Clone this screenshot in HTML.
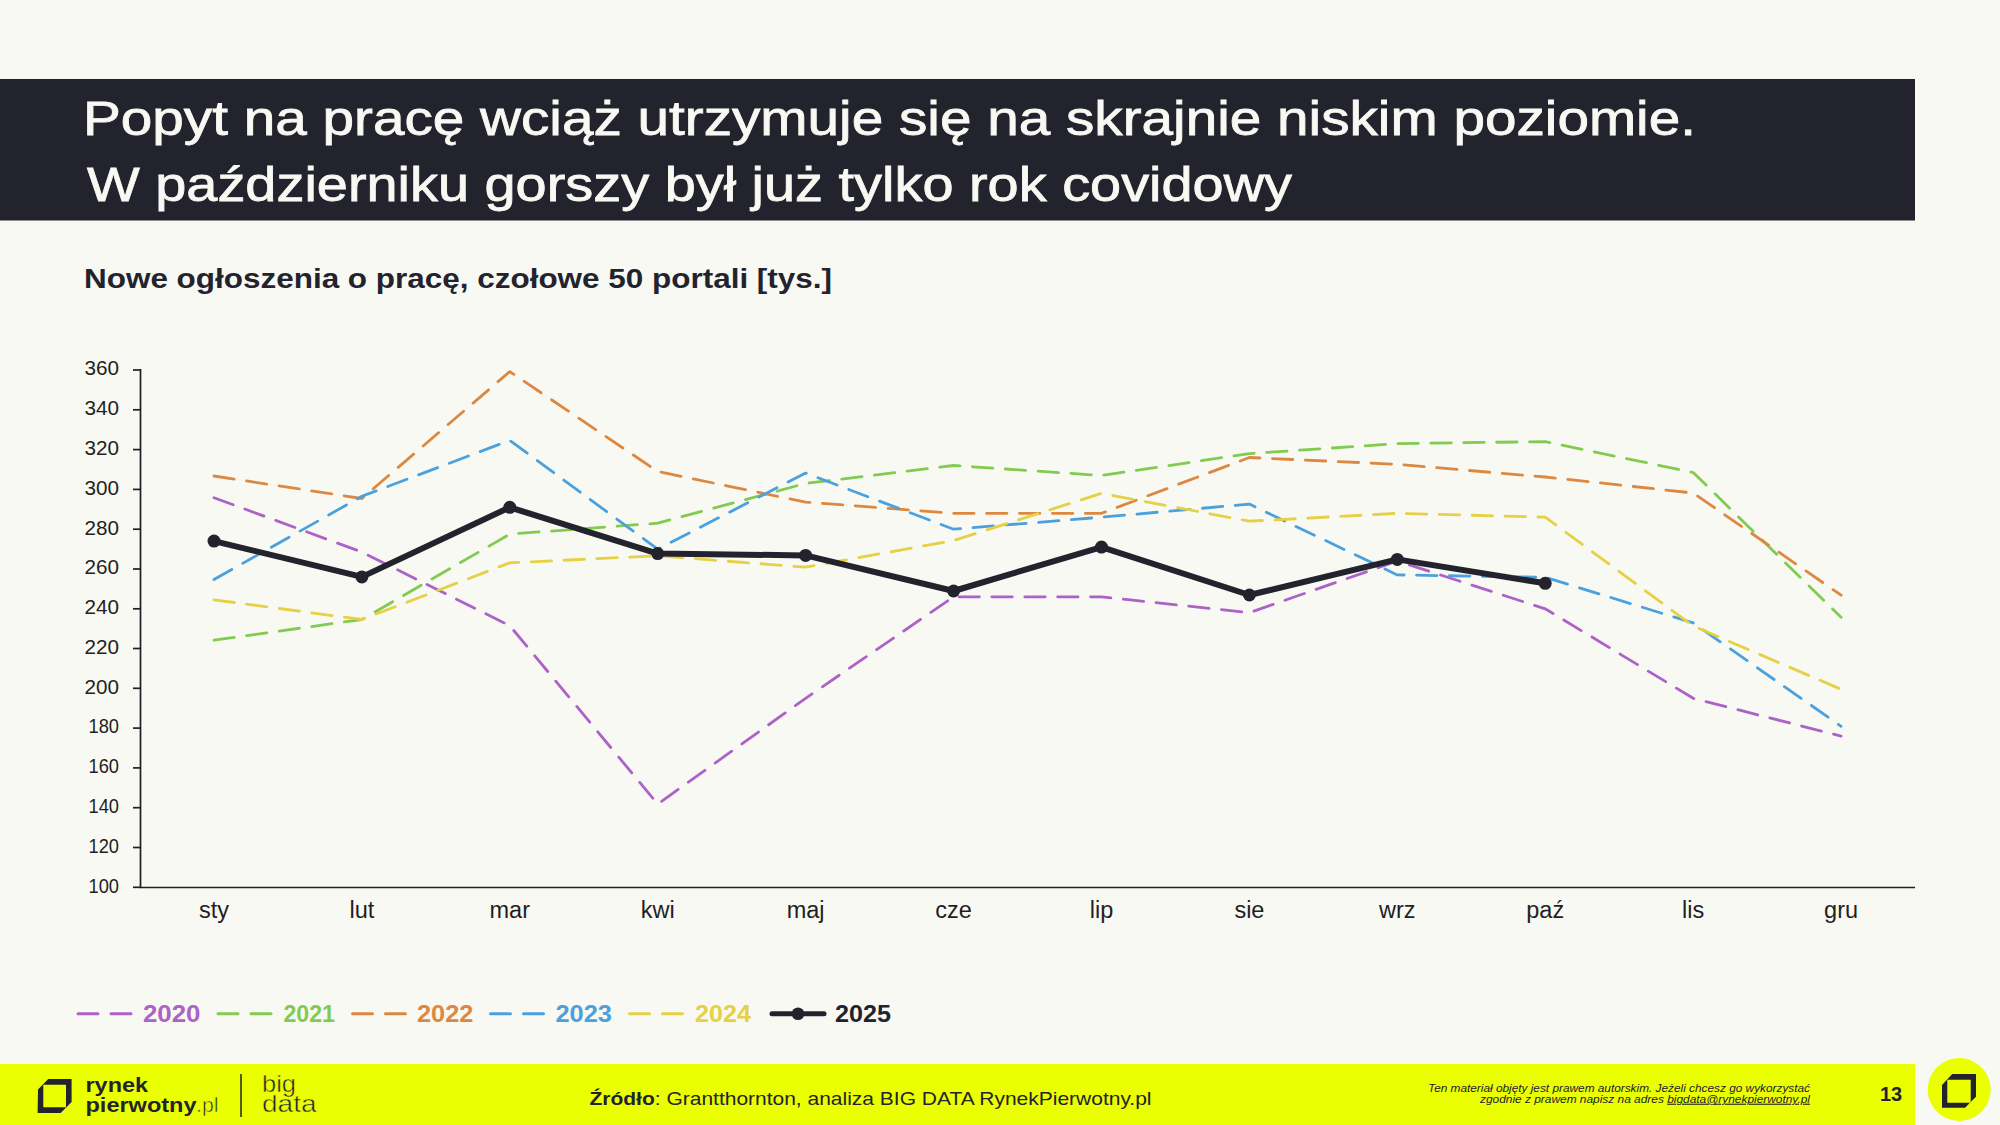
<!DOCTYPE html>
<html><head><meta charset="utf-8"><title>Popyt na pracę</title>
<style>
html,body{margin:0;padding:0;background:#F8F9F3;}
body{width:2000px;height:1125px;overflow:hidden;position:relative;font-family:"Liberation Sans",sans-serif;}
svg{position:absolute;left:0;top:0;}
</style></head><body>
<svg width="2000" height="1125" viewBox="0 0 2000 1125" font-family="Liberation Sans, sans-serif">
<rect x="0" y="0" width="2000" height="1125" fill="#F8F9F3"/>
<rect x="0" y="79" width="1915" height="141.5" fill="#23232D"/>
<text x="83" y="135" font-size="49" fill="#F8F9F3" stroke="#F8F9F3" stroke-width="0.8" textLength="1613" lengthAdjust="spacingAndGlyphs">Popyt na pracę wciąż utrzymuje się na skrajnie niskim poziomie.</text>
<text x="87" y="201" font-size="49" fill="#F8F9F3" stroke="#F8F9F3" stroke-width="0.8" textLength="1205" lengthAdjust="spacingAndGlyphs">W październiku gorszy był już tylko rok covidowy</text>
<text x="84" y="288" font-size="28" font-weight="bold" fill="#23232D" textLength="748" lengthAdjust="spacingAndGlyphs">Nowe ogłoszenia o pracę, czołowe 50 portali [tys.]</text>

<g stroke="#1F1F24" stroke-width="1.7" fill="none">
<path d="M140.5 369 V887.5 H1915"/>
<path d="M133 887.3 H140.5"/>
<path d="M133 847.5 H140.5"/>
<path d="M133 807.7 H140.5"/>
<path d="M133 767.9 H140.5"/>
<path d="M133 728.1 H140.5"/>
<path d="M133 688.3 H140.5"/>
<path d="M133 648.5 H140.5"/>
<path d="M133 608.8 H140.5"/>
<path d="M133 569.0 H140.5"/>
<path d="M133 529.2 H140.5"/>
<path d="M133 489.4 H140.5"/>
<path d="M133 449.6 H140.5"/>
<path d="M133 409.8 H140.5"/>
<path d="M133 370.0 H140.5"/>
</g>
<g font-size="19.5" fill="#1F1F24" text-anchor="end">
<text x="88.5" y="892.6" text-anchor="start" textLength="30.5" lengthAdjust="spacingAndGlyphs">100</text>
<text x="88.5" y="852.8" text-anchor="start" textLength="30.5" lengthAdjust="spacingAndGlyphs">120</text>
<text x="88.5" y="813.0" text-anchor="start" textLength="30.5" lengthAdjust="spacingAndGlyphs">140</text>
<text x="88.5" y="773.2" text-anchor="start" textLength="30.5" lengthAdjust="spacingAndGlyphs">160</text>
<text x="88.5" y="733.4" text-anchor="start" textLength="30.5" lengthAdjust="spacingAndGlyphs">180</text>
<text x="84.5" y="693.6" text-anchor="start" textLength="34.5" lengthAdjust="spacingAndGlyphs">200</text>
<text x="84.5" y="653.8" text-anchor="start" textLength="34.5" lengthAdjust="spacingAndGlyphs">220</text>
<text x="84.5" y="614.1" text-anchor="start" textLength="34.5" lengthAdjust="spacingAndGlyphs">240</text>
<text x="84.5" y="574.3" text-anchor="start" textLength="34.5" lengthAdjust="spacingAndGlyphs">260</text>
<text x="84.5" y="534.5" text-anchor="start" textLength="34.5" lengthAdjust="spacingAndGlyphs">280</text>
<text x="84.5" y="494.7" text-anchor="start" textLength="34.5" lengthAdjust="spacingAndGlyphs">300</text>
<text x="84.5" y="454.9" text-anchor="start" textLength="34.5" lengthAdjust="spacingAndGlyphs">320</text>
<text x="84.5" y="415.1" text-anchor="start" textLength="34.5" lengthAdjust="spacingAndGlyphs">340</text>
<text x="84.5" y="375.3" text-anchor="start" textLength="34.5" lengthAdjust="spacingAndGlyphs">360</text>
</g>
<g font-size="23.5" fill="#1F1F24" text-anchor="middle">
<text x="214.0" y="917.5">sty</text>
<text x="361.9" y="917.5">lut</text>
<text x="509.8" y="917.5">mar</text>
<text x="657.7" y="917.5">kwi</text>
<text x="805.6" y="917.5">maj</text>
<text x="953.6" y="917.5">cze</text>
<text x="1101.5" y="917.5">lip</text>
<text x="1249.4" y="917.5">sie</text>
<text x="1397.3" y="917.5">wrz</text>
<text x="1545.2" y="917.5">paź</text>
<text x="1693.2" y="917.5">lis</text>
<text x="1841.1" y="917.5">gru</text>
</g>
<polyline points="214.0,497.7 361.9,552.1 509.8,625.7 657.7,804.1 805.6,698.3 953.6,596.8 1101.5,596.8 1249.4,612.7 1397.3,561.0 1545.2,608.8 1693.2,698.3 1841.1,736.1" fill="none" stroke="#AD62C7" stroke-width="2.8" stroke-dasharray="20.4 12.5" stroke-linecap="round" stroke-linejoin="round"/>
<polyline points="214.0,640.2 361.9,619.5 509.8,534.1 657.7,523.2 805.6,483.4 953.6,465.5 1101.5,475.5 1249.4,453.6 1397.3,443.6 1545.2,441.6 1693.2,472.5 1841.1,617.3" fill="none" stroke="#82CB50" stroke-width="2.8" stroke-dasharray="20.4 12.5" stroke-linecap="round" stroke-linejoin="round"/>
<polyline points="214.0,476.0 361.9,498.5 509.8,371.6 657.7,471.5 805.6,502.1 953.6,513.3 1101.5,513.3 1249.4,457.5 1397.3,464.3 1545.2,477.0 1693.2,493.0 1841.1,595.2" fill="none" stroke="#DD8840" stroke-width="2.8" stroke-dasharray="20.4 12.5" stroke-linecap="round" stroke-linejoin="round"/>
<polyline points="214.0,579.5 361.9,496.3 509.8,440.4 657.7,549.1 805.6,473.1 953.6,529.2 1101.5,517.2 1249.4,504.1 1397.3,574.9 1545.2,577.3 1693.2,622.9 1841.1,726.3" fill="none" stroke="#4AA1DD" stroke-width="2.8" stroke-dasharray="20.4 12.5" stroke-linecap="round" stroke-linejoin="round"/>
<polyline points="214.0,599.8 361.9,619.5 509.8,562.8 657.7,555.8 805.6,567.2 953.6,540.5 1101.5,493.4 1249.4,521.2 1397.3,513.3 1545.2,517.2 1693.2,625.9 1841.1,689.3" fill="none" stroke="#E6D045" stroke-width="2.8" stroke-dasharray="20.4 12.5" stroke-linecap="round" stroke-linejoin="round"/>
<polyline points="214.0,541.1 361.9,576.9 509.8,507.3 657.7,553.6 805.6,555.4 953.6,591.0 1101.5,547.1 1249.4,595.0 1397.3,559.4 1545.2,583.3" fill="none" stroke="#23232D" stroke-width="6" stroke-linejoin="round"/>
<circle cx="214.0" cy="541.1" r="6.5" fill="#23232D"/>
<circle cx="361.9" cy="576.9" r="6.5" fill="#23232D"/>
<circle cx="509.8" cy="507.3" r="6.5" fill="#23232D"/>
<circle cx="657.7" cy="553.6" r="6.5" fill="#23232D"/>
<circle cx="805.6" cy="555.4" r="6.5" fill="#23232D"/>
<circle cx="953.6" cy="591.0" r="6.5" fill="#23232D"/>
<circle cx="1101.5" cy="547.1" r="6.5" fill="#23232D"/>
<circle cx="1249.4" cy="595.0" r="6.5" fill="#23232D"/>
<circle cx="1397.3" cy="559.4" r="6.5" fill="#23232D"/>
<circle cx="1545.2" cy="583.3" r="6.5" fill="#23232D"/>
<path d="M78.0 1013.7 h20 M111.0 1013.7 h20" stroke="#AD62C7" stroke-width="3" stroke-linecap="round"/>
<text x="143" y="1021.5" font-size="23" font-weight="bold" fill="#AD62C7" textLength="57.5" lengthAdjust="spacingAndGlyphs">2020</text>
<path d="M218.0 1013.7 h20 M251.0 1013.7 h20" stroke="#82CB50" stroke-width="3" stroke-linecap="round"/>
<text x="283.5" y="1021.5" font-size="23" font-weight="bold" fill="#82CB50" textLength="51.5" lengthAdjust="spacingAndGlyphs">2021</text>
<path d="M352.5 1013.7 h20 M385.5 1013.7 h20" stroke="#DD8840" stroke-width="3" stroke-linecap="round"/>
<text x="417" y="1021.5" font-size="23" font-weight="bold" fill="#DD8840" textLength="56.5" lengthAdjust="spacingAndGlyphs">2022</text>
<path d="M490.5 1013.7 h20 M523.5 1013.7 h20" stroke="#4AA1DD" stroke-width="3" stroke-linecap="round"/>
<text x="555.5" y="1021.5" font-size="23" font-weight="bold" fill="#4AA1DD" textLength="56.5" lengthAdjust="spacingAndGlyphs">2023</text>
<path d="M629.5 1013.7 h20 M662.5 1013.7 h20" stroke="#E6D045" stroke-width="3" stroke-linecap="round"/>
<text x="695" y="1021.5" font-size="23" font-weight="bold" fill="#E6D045" textLength="56" lengthAdjust="spacingAndGlyphs">2024</text>
<path d="M772 1013.7 H824" stroke="#23232D" stroke-width="5" stroke-linecap="round"/><circle cx="798" cy="1013.7" r="6.3" fill="#23232D"/>
<text x="835" y="1021.5" font-size="23" font-weight="bold" fill="#23232D" textLength="56" lengthAdjust="spacingAndGlyphs">2025</text>
<rect x="0" y="1064" width="1915" height="61" fill="#EAFF00"/>
<circle cx="1959.2" cy="1089.5" r="31.5" fill="#EAFF00"/>
<path fill-rule="evenodd" fill="#23232D" d="M38 1089.6 L48.2 1079.1 L71.6 1079.1 L71.6 1102 L60.7 1112.9 L37.6 1112.9 Z M43.3 1084.7 V1107.3 H66 V1084.7 Z"/>
<path fill-rule="evenodd" fill="#23232D" d="M1942 1085 L1952.3 1074 L1976 1074 L1976 1096.7 L1965 1107.7 L1942 1107.7 Z M1947.3 1079.7 V1102.7 H1970.7 V1079.7 Z"/>
<text x="85.5" y="1091.6" font-size="20.5" font-weight="bold" fill="#23232D" textLength="62.5" lengthAdjust="spacingAndGlyphs">rynek</text>
<text x="85.5" y="1111.6" font-size="20.5" font-weight="bold" fill="#23232D" textLength="111" lengthAdjust="spacingAndGlyphs">pierwotny</text>
<text x="196" y="1111.6" font-size="20.5" fill="#23232D" stroke="#EAFF00" stroke-width="0.6" textLength="22.5" lengthAdjust="spacingAndGlyphs">.pl</text>
<path d="M241 1074 V1117" stroke="#23232D" stroke-width="1.5"/>
<text x="262" y="1091.6" font-size="24" fill="#23232D" stroke="#EAFF00" stroke-width="0.5" textLength="34" lengthAdjust="spacingAndGlyphs">big</text>
<text x="262" y="1112" font-size="24" fill="#23232D" stroke="#EAFF00" stroke-width="0.5" textLength="54.5" lengthAdjust="spacingAndGlyphs">data</text>
<text x="589.5" y="1104.5" font-size="19" fill="#23232D" textLength="562" lengthAdjust="spacingAndGlyphs"><tspan font-weight="bold">Źródło</tspan>: Grantthornton, analiza BIG DATA RynekPierwotny.pl</text>
<text x="1428" y="1091.7" font-size="11" font-style="italic" fill="#23232D" textLength="382" lengthAdjust="spacingAndGlyphs">Ten materiał objęty jest prawem autorskim. Jeżeli chcesz go wykorzystać</text>
<text x="1480" y="1102.7" font-size="11" font-style="italic" fill="#23232D" textLength="330" lengthAdjust="spacingAndGlyphs">zgodnie z prawem napisz na adres <tspan text-decoration="underline">bigdata@rynekpierwotny.pl</tspan></text>
<text x="1891" y="1101" font-size="20" font-weight="bold" fill="#23232D" text-anchor="middle">13</text>
</svg></body></html>
